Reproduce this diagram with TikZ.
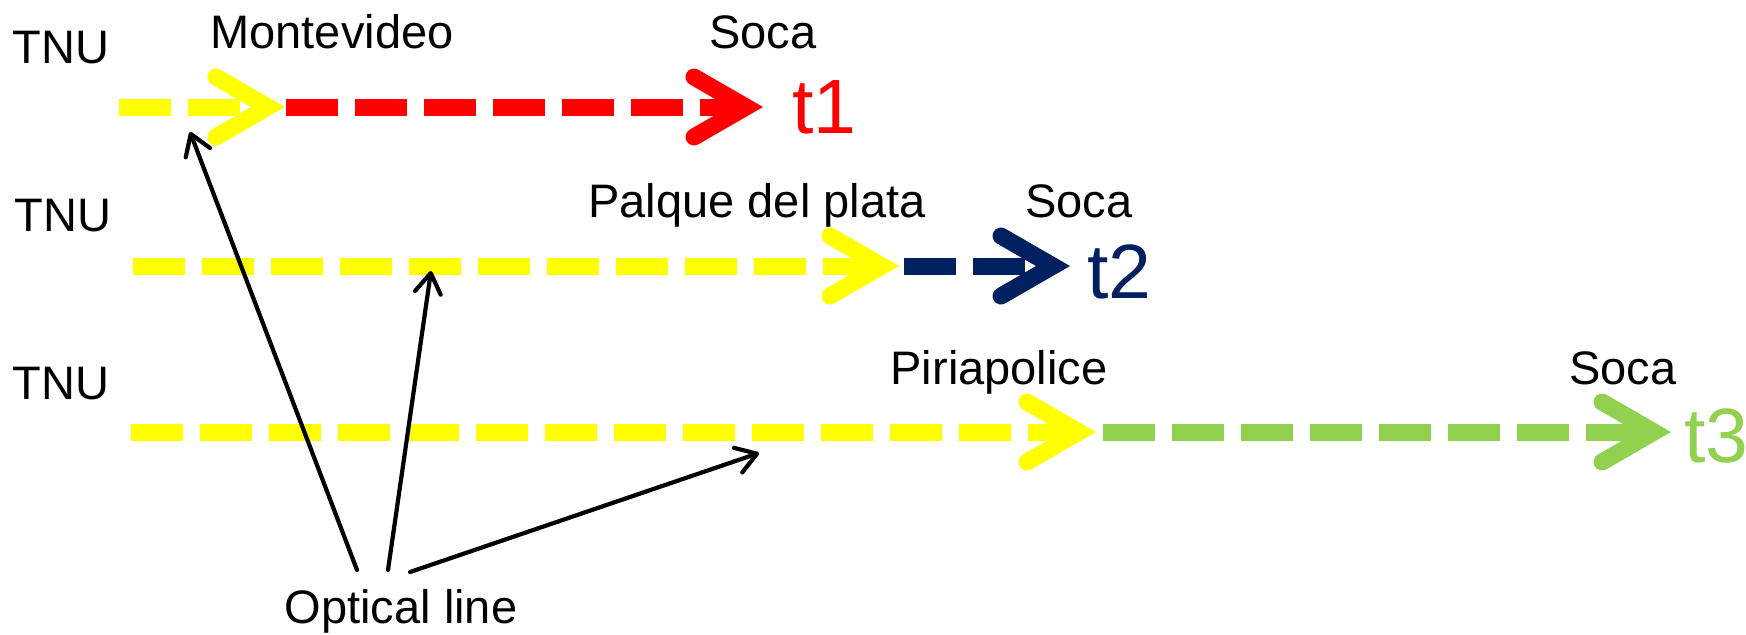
\documentclass[tikz,border=0pt]{standalone}
\usepackage{fontspec}
\setmainfont{Liberation Sans}
\usetikzlibrary{arrows.meta}
\definecolor{cyellow}{HTML}{FFFF00}
\definecolor{cred}{HTML}{FF0000}
\definecolor{cnavy}{HTML}{002060}
\definecolor{cgreen}{HTML}{92D050}
\newcommand\fibhead[2]{\draw[fhead,#1] (#2) ++(-52,-30) -- (#2) -- ++(-52,30);}
\begin{document}
\begin{tikzpicture}[x=0.5pt,y=-0.5pt,
  lbl/.style={inner sep=0pt, anchor=base, font=\fontsize{23.5}{28}\selectfont},
  tlbl/.style={inner sep=0pt, anchor=base west, font=\fontsize{38.5}{46}\selectfont},
  fiber/.style={line width=8.5pt, dash pattern=on 26pt off 8.5pt},
  fhead/.style={line width=8.5pt, line cap=round, line join=miter},
  pointer/.style={line width=2.1pt, line cap=round, -{Straight Barb[length=10pt,width=13pt,round]}}]
\useasboundingbox (0,0) rectangle (1746,634);

% coordinates of the fibre lines
\coordinate (y1s) at (119,107);  \coordinate (y1v) at (268,107);
\coordinate (r1s) at (286,107);  \coordinate (r1v) at (746,107);
\coordinate (y2s) at (133,266);  \coordinate (y2v) at (882,266);
\coordinate (n2s) at (904,266);  \coordinate (n2v) at (1053,266);
\coordinate (y3s) at (131,432);  \coordinate (y3v) at (1079,432);
\coordinate (g3s) at (1103,432); \coordinate (g3v) at (1654,432);

% labels
\node[lbl] (tnu1) at (61,63) {TNU};
\node[lbl] (tnu2) at (63,231) {TNU};
\node[lbl] (tnu3) at (61,399) {TNU};
\node[lbl] (mvd) at (332,48) {Montevideo};
\node[lbl] (soca1) at (763,48) {Soca};
\node[lbl] (pdp) at (757,217) {Palque del plata};
\node[lbl] (soca2) at (1079,217) {Soca};
\node[lbl] (piri) at (999,384) {Piriapolice};
\node[lbl] (soca3) at (1623,384) {Soca};
\node[tlbl, text=cred] (t1) at (792,133) {t1};
\node[tlbl, text=cnavy] (t2) at (1087,298) {t2};
\node[tlbl, text=cgreen] (t3) at (1684,462) {t3};
\node[lbl] (opt) at (401,623) {Optical line};

% row 1
\draw[fiber, cyellow] (y1s) -- (y1v);
\fibhead{cyellow}{y1v}
\draw[fiber, cred] (r1s) -- (r1v);
\fibhead{cred}{r1v}
% row 2
\draw[fiber, cyellow] (y2s) -- (y2v);
\fibhead{cyellow}{y2v}
\draw[fiber, cnavy] (n2s) -- (n2v);
\fibhead{cnavy}{n2v}
% row 3
\draw[fiber, cyellow] (y3s) -- (y3v);
\fibhead{cyellow}{y3v}
\draw[fiber, cgreen] (g3s) -- (g3v);
\fibhead{cgreen}{g3v}

% optical line pointers
\coordinate (p1) at (357,570); \coordinate (q1) at (190,132);
\coordinate (p2) at (388,570); \coordinate (q2) at (431,271);
\coordinate (p3) at (410,572); \coordinate (q3) at (759,453);
\draw[pointer] (p1) -- (q1);
\draw[pointer] (p2) -- (q2);
\draw[pointer] (p3) -- (q3);
\end{tikzpicture}
\end{document}
